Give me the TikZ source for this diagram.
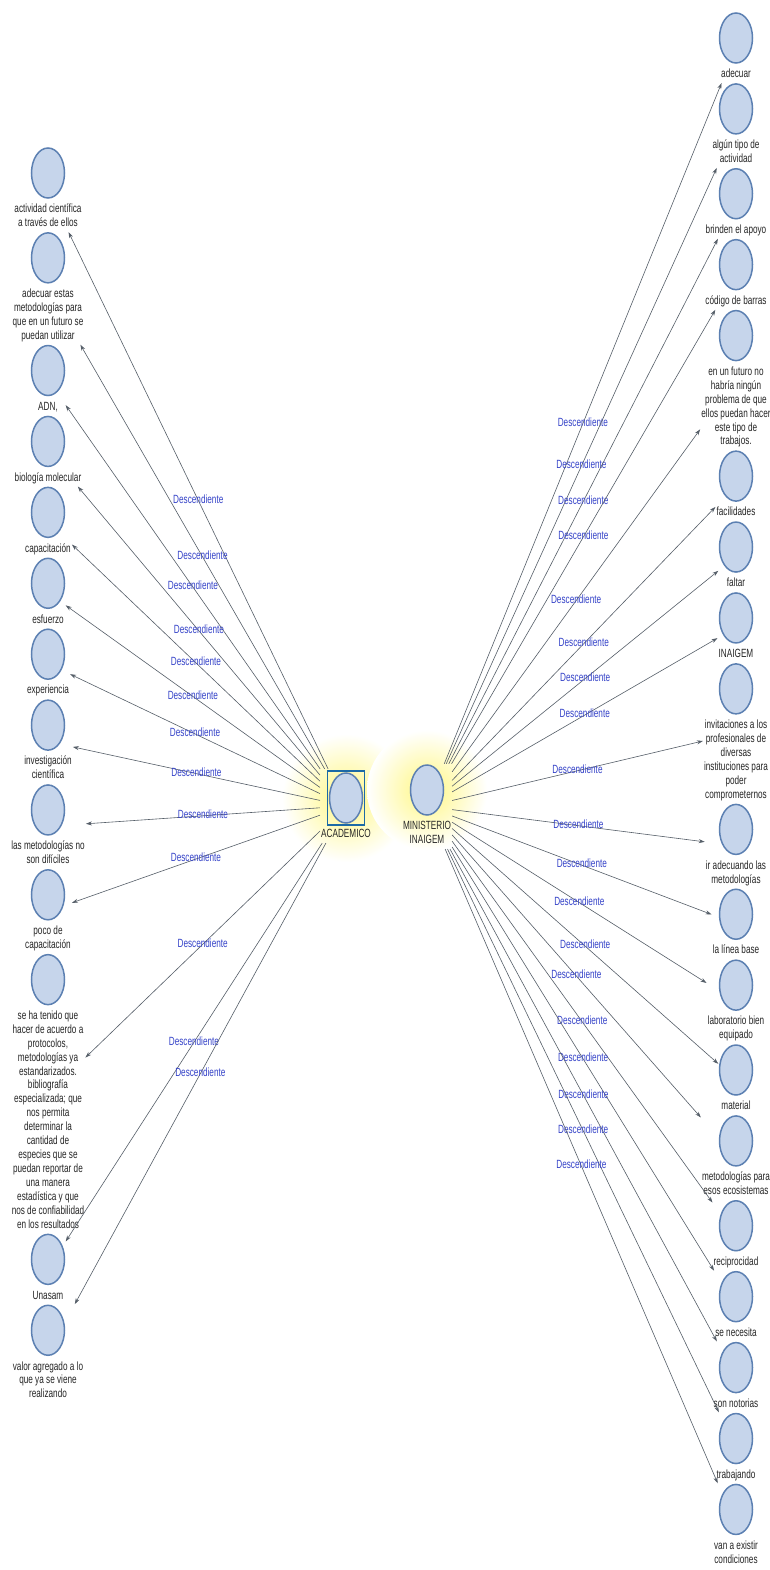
\documentclass[tikz,border=0pt]{standalone}
\usepackage{fontspec}
\setmainfont{Liberation Sans}
\usepackage{graphicx}
\usetikzlibrary{arrows.meta,positioning,fit,shapes.geometric,backgrounds}
\definecolor{bubfill}{RGB}{198,213,235}
\definecolor{bubline}{RGB}{92,128,178}
\definecolor{relblue}{RGB}{52,66,200}
\definecolor{linkgray}{RGB}{85,94,104}
\definecolor{selblue}{RGB}{28,106,166}
\definecolor{glowyel}{RGB}{255,247,130}
\newcommand{\tall}[1]{\scalebox{1}[1.45]{\begin{tabular}{@{}c@{}}#1\end{tabular}}}
\tikzset{
  bub/.style={ellipse, draw=bubline, fill=bubfill, line width=1.5pt,
              minimum width=33pt, minimum height=50pt, inner sep=0pt, outer sep=0pt},
  lbl/.style={inner sep=0pt, outer sep=0pt, font=\fontsize{8.2}{9.6}\selectfont, text=black!85},
  grp/.style={inner sep=1pt},
  link/.style={-{Stealth[length=6pt,width=4pt]}, linkgray, line width=0.6pt},
  desc/.style={inner sep=0pt, font=\fontsize{8.2}{9.6}\selectfont, text=relblue},
  selbox/.style={draw=selblue, line width=1.8pt, inner sep=2pt},
  glow/.style={inner color=glowyel, outer color=white},
}

\begin{document}
\begin{tikzpicture}[x=1pt, y=-1pt]
  \useasboundingbox (0,0) rectangle (770,1570);
  \node[bub] (aca) at (346,798) {};
  \node[selbox, fit=(aca)] (acasel) {};
  \node[lbl, below=5pt of aca] (aca-t) {\tall{ACADEMICO}};
  \node[grp, fit=(acasel)(aca-t)] (aca-g) {};
  \node[bub] (mini) at (427,790) {};
  \node[lbl, below=5pt of mini] (mini-t) {\tall{MINISTERIO\\INAIGEM}};
  \node[grp, fit=(mini)(mini-t)] (mini-g) {};
  \begin{scope}[on background layer]
    \fill[white] (0,0) rectangle (770,1570);
    \shade[glow] (aca) circle (64pt);
    \shade[glow] (mini) circle (60pt);
  \end{scope}

  \coordinate (lhead-t) at (48,146);
  \foreach \nm/\txt [remember=\nm as \prev (initially lhead)] in {
    actividad/{actividad científica\\a través de ellos},
    utilizar/{adecuar estas\\metodologías para\\que en un futuro se\\puedan utilizar},
    adn/{ADN,},
    biologia/{biología molecular},
    capacitacion/{capacitación},
    esfuerzo/{esfuerzo},
    experiencia/{experiencia},
    investigacion/{investigación\\científica},
    dificiles/{las metodologías no\\son difíciles},
    poco/{poco de\\capacitación},
    protocolos/{se ha tenido que\\hacer de acuerdo a\\protocolos,\\metodologías ya\\estandarizados.\\bibliografía\\especializada; que\\nos permita\\determinar la\\cantidad de\\especies que se\\puedan reportar de\\una manera\\estadística y que\\nos de confiabilidad\\en los resultados},
    unasam/{Unasam},
    valor/{valor agregado a lo\\que ya se viene\\realizando}%
  }{
    \node[bub, below=2pt of \prev-t] (\nm) {};
    \node[lbl, below=5pt of \nm] (\nm-t) {\tall{\txt}};
    \node[grp, fit=(\nm)(\nm-t)] (\nm-g) {};
    \draw[link] (aca-g) -- node[desc] {\tall{Descendiente}} (\nm-g);
  }

  \coordinate (rhead-t) at (736,11);
  \foreach \nm/\txt [remember=\nm as \prev (initially rhead)] in {
    adecuar/{adecuar},
    tipoact/{algún tipo de\\actividad},
    apoyo/{brinden el apoyo},
    codigo/{código de barras},
    futuro/{en un futuro no\\habría ningún\\problema de que\\ellos puedan hacer\\este tipo de\\trabajos.},
    facilidades/{facilidades},
    faltar/{faltar},
    inaigem/{INAIGEM},
    invitaciones/{invitaciones a los\\profesionales de\\diversas\\instituciones para\\poder\\comprometernos},
    adecuando/{ir adecuando las\\metodologías},
    lineabase/{la línea base},
    laboratorio/{laboratorio bien\\equipado},
    material/{material},
    ecosistemas/{metodologías para\\esos ecosistemas},
    reciprocidad/{reciprocidad},
    necesita/{se necesita},
    notorias/{son notorias},
    trabajando/{trabajando},
    condiciones/{van a existir\\condiciones}%
  }{
    \node[bub, below=2pt of \prev-t] (\nm) {};
    \node[lbl, below=5pt of \nm] (\nm-t) {\tall{\txt}};
    \node[grp, fit=(\nm)(\nm-t)] (\nm-g) {};
    \draw[link] (mini-g) -- node[desc] {\tall{Descendiente}} (\nm-g);
  }
\end{tikzpicture}
\end{document}
